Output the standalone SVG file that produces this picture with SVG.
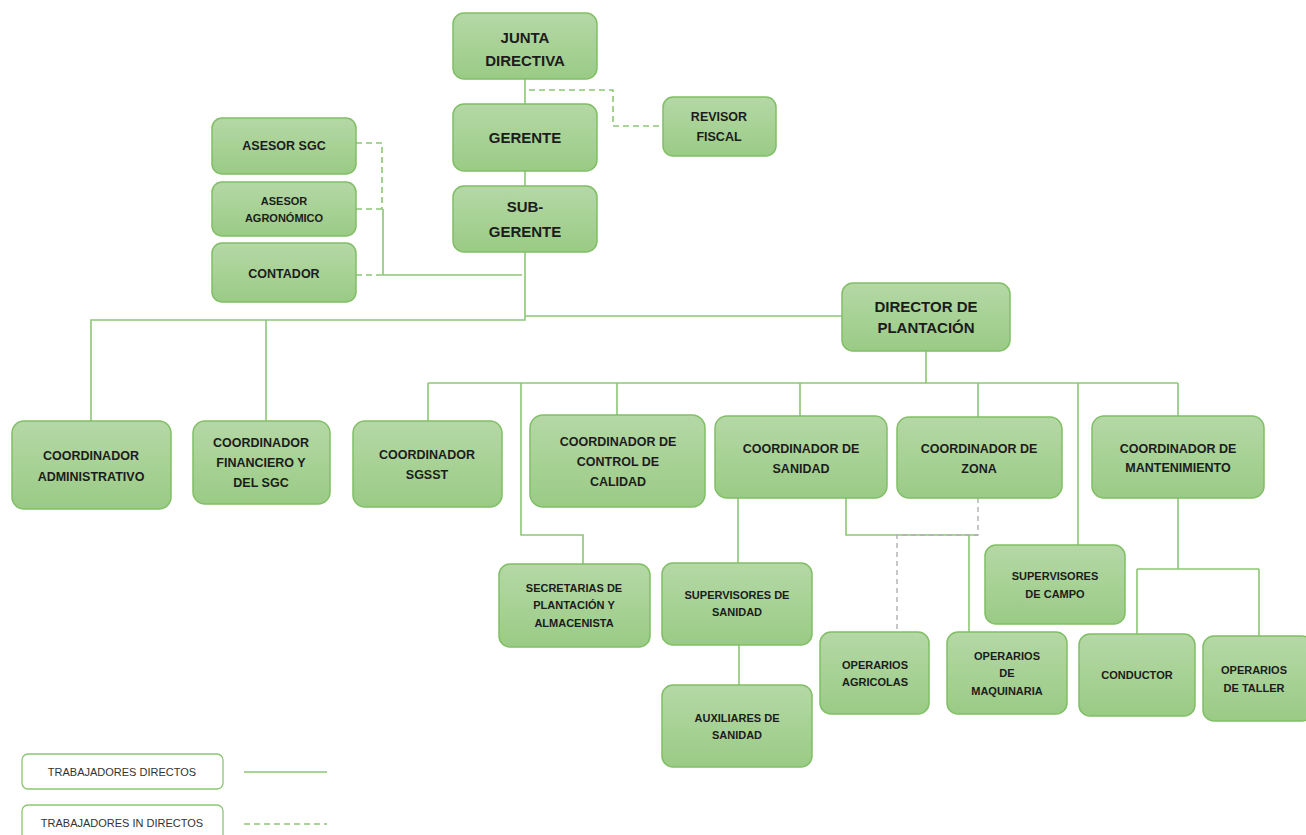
<svg xmlns="http://www.w3.org/2000/svg" width="1306" height="835" viewBox="0 0 1306 835">
<defs>
<linearGradient id="g" x1="0" y1="0" x2="0" y2="1">
<stop offset="0" stop-color="#b5d8a6"/>
<stop offset="1" stop-color="#9acb85"/>
</linearGradient>
<style>
.n{fill:url(#g);stroke:#80bf66;stroke-width:1.5}
.t{font-family:"Liberation Sans",Arial,sans-serif;font-weight:bold;fill:#1c1c1c;text-anchor:middle}
.L{font-size:15px}.M{font-size:12.5px}.S{font-size:11px}
.c{fill:none;stroke:#8cc673;stroke-width:1.6}
.d{fill:none;stroke:#8cc673;stroke-width:1.6;stroke-dasharray:6 4}
.gd{fill:none;stroke:#b0b0b0;stroke-width:1.4;stroke-dasharray:5 4}
.lg{fill:#fff;stroke:#8cc673;stroke-width:1.3}
.lt{font-family:"Liberation Sans",Arial,sans-serif;font-size:11px;fill:#333;text-anchor:middle}
</style>
</defs>
<rect width="1306" height="835" fill="#fff"/>
<g id="connectors">
<path class="c" d="M525 79V104M525 171V186M525 252V320H91V421M266 320V430M525 316H842"/>
<path class="d" d="M529 90H613V126H663"/>
<path class="d" d="M356 143H382V209M356 209H382M356 275H382"/>
<path class="c" d="M383 209V275H522"/>
<path class="c" d="M926 351V383M428 383H1178M428 383V421M521 383V535H583V564M617 383V415M800 383V416M978 383V417M1078 383V545M1178 383V416"/>
<path class="c" d="M738 498V563M739 645V685"/>
<path class="c" d="M846 498V535H978M969 535V632"/>
<path class="gd" d="M978 498V535H897V632"/>
<path class="c" d="M1178 498V569M1137 569H1259M1137 569V634M1259 569V636"/>
</g>
<g id="junta"><rect class="n" x="453" y="13" width="144" height="66" rx="11"/><text class="t L" x="525" y="43">JUNTA</text><text class="t L" x="525" y="66">DIRECTIVA</text></g>
<g id="gerente"><rect class="n" x="453" y="104" width="144" height="67" rx="11"/><text class="t L" x="525" y="143">GERENTE</text></g>
<g id="subgerente"><rect class="n" x="453" y="186" width="144" height="66" rx="11"/><text class="t L" x="525" y="212">SUB-</text><text class="t L" x="525" y="237">GERENTE</text></g>
<g id="revisor"><rect class="n" x="663" y="97" width="113" height="59" rx="10"/><text class="t M" x="719" y="121">REVISOR</text><text class="t M" x="719" y="141">FISCAL</text></g>
<g id="asesorsgc"><rect class="n" x="212" y="118" width="144" height="56" rx="10"/><text class="t M" x="284" y="150">ASESOR SGC</text></g>
<g id="asesoragro"><rect class="n" x="212" y="182" width="144" height="54" rx="10"/><text class="t S" x="284" y="205">ASESOR</text><text class="t S" x="284" y="222">AGRONÓMICO</text></g>
<g id="contador"><rect class="n" x="212" y="243" width="144" height="59" rx="10"/><text class="t M" x="284" y="278">CONTADOR</text></g>
<g id="director"><rect class="n" x="842" y="283" width="168" height="68" rx="11"/><text class="t L" x="926" y="312">DIRECTOR DE</text><text class="t L" x="926" y="333">PLANTACIÓN</text></g>
<g id="cadmin"><rect class="n" x="12" y="421" width="159" height="88" rx="12"/><text class="t M" x="91" y="460">COORDINADOR</text><text class="t M" x="91" y="481">ADMINISTRATIVO</text></g>
<g id="cfin"><rect class="n" x="193" y="421" width="137" height="83" rx="12"/><text class="t M" x="261" y="447">COORDINADOR</text><text class="t M" x="261" y="467">FINANCIERO Y</text><text class="t M" x="261" y="487">DEL SGC</text></g>
<g id="csgsst"><rect class="n" x="353" y="421" width="149" height="86" rx="12"/><text class="t M" x="427" y="459">COORDINADOR</text><text class="t M" x="427" y="479">SGSST</text></g>
<g id="ccalidad"><rect class="n" x="530" y="415" width="175" height="92" rx="13"/><text class="t M" x="618" y="446">COORDINADOR DE</text><text class="t M" x="618" y="466">CONTROL DE</text><text class="t M" x="618" y="486">CALIDAD</text></g>
<g id="csanidad"><rect class="n" x="715" y="416" width="172" height="82" rx="12"/><text class="t M" x="801" y="453">COORDINADOR DE</text><text class="t M" x="801" y="473">SANIDAD</text></g>
<g id="czona"><rect class="n" x="897" y="417" width="165" height="81" rx="12"/><text class="t M" x="979" y="453">COORDINADOR DE</text><text class="t M" x="979" y="473">ZONA</text></g>
<g id="cmant"><rect class="n" x="1092" y="416" width="172" height="82" rx="12"/><text class="t M" x="1178" y="453">COORDINADOR DE</text><text class="t M" x="1178" y="472">MANTENIMIENTO</text></g>
<g id="secretarias"><rect class="n" x="499" y="564" width="151" height="83" rx="11"/><text class="t S" x="574" y="592">SECRETARIAS DE</text><text class="t S" x="574" y="609">PLANTACIÓN Y</text><text class="t S" x="574" y="627">ALMACENISTA</text></g>
<g id="supsanidad"><rect class="n" x="662" y="563" width="150" height="82" rx="11"/><text class="t S" x="737" y="599">SUPERVISORES DE</text><text class="t S" x="737" y="616">SANIDAD</text></g>
<g id="auxsanidad"><rect class="n" x="662" y="685" width="150" height="82" rx="11"/><text class="t S" x="737" y="722">AUXILIARES DE</text><text class="t S" x="737" y="739">SANIDAD</text></g>
<g id="supcampo"><rect class="n" x="985" y="545" width="140" height="79" rx="11"/><text class="t S" x="1055" y="580">SUPERVISORES</text><text class="t S" x="1055" y="598">DE CAMPO</text></g>
<g id="opagri"><rect class="n" x="820" y="632" width="109" height="82" rx="11"/><text class="t S" x="875" y="669">OPERARIOS</text><text class="t S" x="875" y="686">AGRICOLAS</text></g>
<g id="opmaq"><rect class="n" x="947" y="632" width="120" height="82" rx="11"/><text class="t S" x="1007" y="660">OPERARIOS</text><text class="t S" x="1007" y="677">DE</text><text class="t S" x="1007" y="695">MAQUINARIA</text></g>
<g id="conductor"><rect class="n" x="1079" y="634" width="116" height="82" rx="11"/><text class="t S" x="1137" y="679">CONDUCTOR</text></g>
<g id="optaller"><rect class="n" x="1203" y="636" width="110" height="85" rx="11"/><text class="t S" x="1254" y="674">OPERARIOS</text><text class="t S" x="1254" y="692">DE TALLER</text></g>
<g id="legend">
<rect class="lg" x="22" y="754" width="201" height="35" rx="6"/><text class="lt" x="122" y="776">TRABAJADORES DIRECTOS</text>
<path class="c" d="M244 772H327"/>
<rect class="lg" x="22" y="805" width="201" height="40" rx="6"/><text class="lt" x="122" y="827">TRABAJADORES IN DIRECTOS</text>
<path class="d" d="M244 824H327"/>
</g>
</svg>
